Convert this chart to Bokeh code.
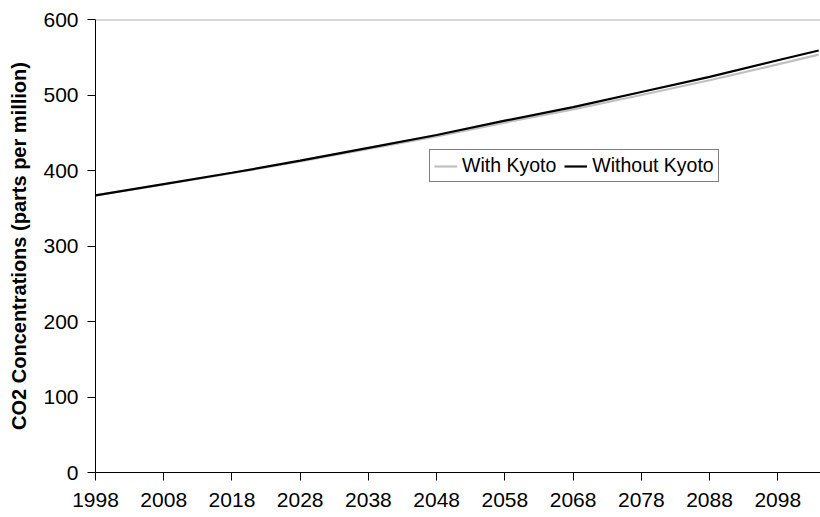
from bokeh.plotting import figure
from bokeh.models import FixedTicker, Range1d, Span, Legend, LegendItem
from bokeh.embed import file_html
from bokeh.resources import INLINE

years = [1998, 2008, 2018, 2028, 2038, 2048, 2058, 2068, 2078, 2088, 2098, 2104]
with_kyoto = [367, 381.5, 396.5, 412, 428.5, 445, 463.5, 481, 500, 519.5, 540.5, 553.5]
without_kyoto = [367, 382, 397, 413, 430, 447, 466, 484, 504, 524, 546, 559]
x_ticks = [1998, 2008, 2018, 2028, 2038, 2048, 2058, 2068, 2078, 2088, 2098]
y_ticks = [0, 100, 200, 300, 400, 500, 600]

FONT = "Liberation Sans"

p = figure(width=820, height=517, output_backend="svg", toolbar_location=None,
           x_range=Range1d(1998, 2104.26), y_range=Range1d(0, 600),
           min_border_left=95, min_border_right=0, min_border_top=19, min_border_bottom=45)
p.outline_line_color = None
p.grid.visible = False
p.background_fill_color = "white"
p.border_fill_color = "white"

r1 = p.line(years, with_kyoto, line_color="#c0c0c0", line_width=2.2)
r2 = p.line(years, without_kyoto, line_color="#000000", line_width=2.2)

p.add_layout(Span(location=600, dimension="width", line_color="#b0b0b0", line_width=2))

xa = p.xaxis[0]
xa.ticker = FixedTicker(ticks=x_ticks)
xa.minor_tick_line_color = None
xa.major_tick_out = 8
xa.major_tick_in = 0
xa.axis_line_color = "black"
xa.major_tick_line_color = "black"
xa.major_label_text_font = FONT
xa.major_label_text_font_size = "21px"
xa.major_label_text_color = "black"
xa.major_label_standoff = 12

ya = p.yaxis[0]
ya.ticker = FixedTicker(ticks=y_ticks)
ya.minor_tick_line_color = None
ya.major_tick_out = 8
ya.major_tick_in = 0
ya.axis_line_color = "black"
ya.major_tick_line_color = "black"
ya.major_label_text_font = FONT
ya.major_label_text_font_size = "21px"
ya.major_label_text_color = "black"
ya.major_label_standoff = 9
ya.axis_label = "CO2 Concentrations (parts per million)"
ya.axis_label_text_font = FONT
ya.axis_label_text_font_size = "20px"
ya.axis_label_text_font_style = "bold"
ya.axis_label_text_color = "black"
ya.axis_label_standoff = 10

legend = Legend(items=[LegendItem(label="With Kyoto", renderers=[r1]),
                       LegendItem(label="Without Kyoto", renderers=[r2])],
                location=(334, 290), orientation="horizontal",
                border_line_color="black", border_line_width=1,
                background_fill_color="white", background_fill_alpha=1,
                label_text_font=FONT, label_text_font_size="19.5px",
                label_text_color="black",
                glyph_width=23, glyph_height=18, label_standoff=5,
                spacing=8, padding=4, margin=0, label_height=20)
p.add_layout(legend, "center")

open("out.html", "w").write(file_html(p, INLINE))
